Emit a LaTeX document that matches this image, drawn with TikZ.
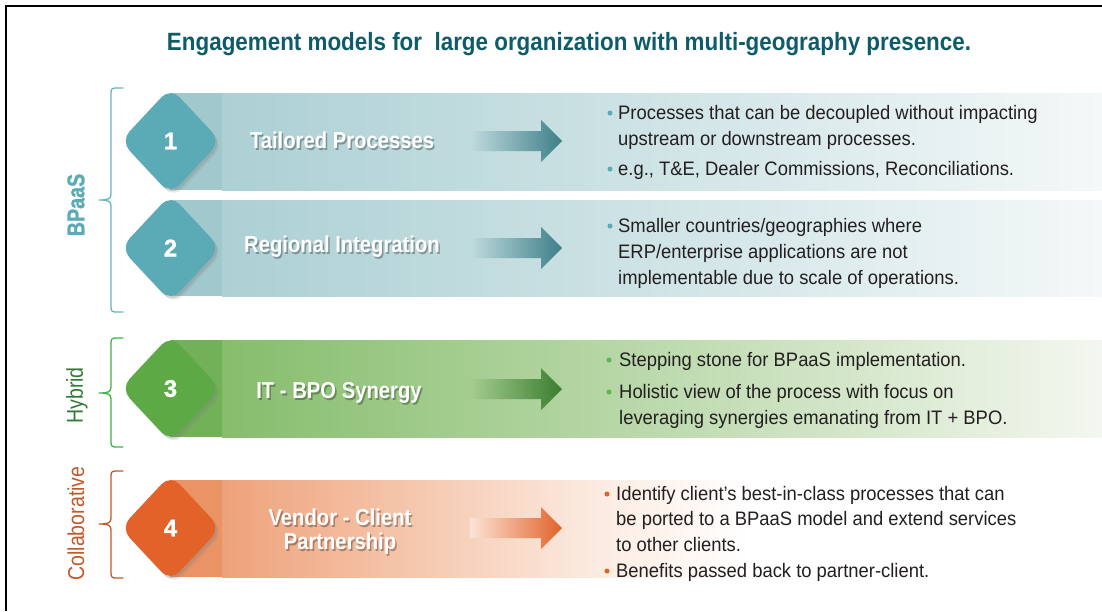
\documentclass[tikz,border=0pt]{standalone}
\usepackage{fontspec}
\setmainfont{Liberation Sans}
\newfontfamily\condreg[FakeStretch=0.944]{Liberation Sans}
\newfontfamily\condbold[FakeStretch=0.88]{Liberation Sans}
\newfontfamily\headfont[FakeStretch=0.896]{Liberation Sans}
\newfontfamily\sidefont[FakeStretch=0.85]{Liberation Sans}
\newfontfamily\sidebold[FakeStretch=0.82,FakeBold=1.2]{Liberation Sans}
\newfontfamily\digitfont[FakeBold=1.2]{Liberation Sans}
\usetikzlibrary{shapes.geometric,shadows}

\definecolor{titlec}{HTML}{0E5C69}
\definecolor{txt}{HTML}{231F20}
% teal group
\definecolor{tealdia}{HTML}{5AABB5}
\definecolor{tealL}{HTML}{A1C8CD}
\definecolor{tealA}{HTML}{ACD0D4}
\definecolor{tealB}{HTML}{F4F8F8}
\definecolor{tealM}{HTML}{C0DBDE}
\definecolor{tealD}{HTML}{3E7F88}
\definecolor{tealbr}{HTML}{6AB3BC}
% green group
\definecolor{greendia}{HTML}{5DA945}
\definecolor{greenL}{HTML}{72B158}
\definecolor{greenA}{HTML}{86BD6C}
\definecolor{greenB}{HTML}{F4F7F0}
\definecolor{greenM}{HTML}{A5CD91}
\definecolor{greenD}{HTML}{3B7D2F}
\definecolor{greenbr}{HTML}{3DB54A}
\definecolor{greenlab}{HTML}{327B37}
\definecolor{greendot}{HTML}{5CB848}
% orange group
\definecolor{orgdia}{HTML}{E2622A}
\definecolor{orgL}{HTML}{EA9365}
\definecolor{orgA}{HTML}{EEA27A}
\definecolor{orgM}{HTML}{F7D2BD}
\definecolor{orgN}{HTML}{FCEDE4}
\definecolor{orgT}{HTML}{FBE3D6}
\definecolor{orgD}{HTML}{E2622A}
\definecolor{orglab}{HTML}{C0592C}

% orange band fades out to white before the text column
\pgfdeclarehorizontalshading{orangeband}{100bp}{%
  color(0bp)=(orgA); color(25bp)=(orgA); color(39bp)=(orgM);
  color(47bp)=(orgN); color(55bp)=(white); color(100bp)=(white)}

\tikzset{
  dia/.style={diamond, minimum width=100pt, minimum height=107pt,
    rounded corners=13pt, inner sep=0pt, text=white,
    font=\digitfont\bfseries\fontsize{24}{24}\selectfont,
    drop shadow={shadow xshift=3.5pt, shadow yshift=-4pt, opacity=0.15},
    drop shadow={shadow xshift=2pt, shadow yshift=-2.5pt, opacity=0.25}},
  btitle/.style={anchor=base, inner sep=0pt, text=white,
    font=\condbold\bfseries\fontsize{23}{24}\selectfont},
  btshadow/.style={anchor=base, inner sep=0pt, text=black, opacity=0.3,
    font=\condbold\bfseries\fontsize{23}{24}\selectfont},
  bul/.style={anchor=base west, inner sep=0pt, text=txt,
    font=\condreg\fontsize{19.5}{26}\selectfont},
  bdot/.style={circle, inner sep=0pt, minimum size=5pt},
  sidelab/.style={rotate=90, inner sep=0pt,
    font=\sidefont\fontsize{23}{24}\selectfont},
}

% block arrow: #1 = centre y, #2 = light colour, #3 = dark colour
\newcommand\blockarrow[3]{%
  \shade[left color=#2, right color=#3]
    (470,{#1-10}) -- (541,{#1-10}) -- (541,{#1-21}) -- (562,#1)
    -- (541,{#1+21}) -- (541,{#1+10}) -- (470,{#1+10}) -- cycle;}

% side bracket: #1 = top, #2 = tip, #3 = bottom, #4 = colour
\newcommand\sidebrace[4]{%
  \draw[#4, line width=1.3pt, line join=round, line cap=round]
    (123,#1) -- (116,#1) .. controls (112,#1) and (111,{#1+1}) .. (111,{#1+5})
    -- (111,{#2-6}) .. controls (111,{#2-1}) and (108,#2) .. (99,#2)
    .. controls (108,#2) and (111,{#2+1}) .. (111,{#2+6})
    -- (111,{#3-5}) .. controls (111,{#3-1}) and (112,#3) .. (116,#3) -- (123,#3);}

\begin{document}
\begin{tikzpicture}[x=1pt,y=-1pt]
\useasboundingbox (0,0) rectangle (1102,611);
\fill[white] (0,0) rectangle (1102,611);

% frame
\draw[line width=2.4pt] (6,611) -- (6,6) -- (1102,6);

% heading
\node[anchor=base, inner sep=0pt, text=titlec,
  font=\headfont\bfseries\fontsize{25}{30}\selectfont] (title) at (569,50)
  {Engagement models for\ \ large organization with multi-geography presence.};

% bands
\shade[left color=tealA, right color=tealB] (222,93) rectangle (1102,190);
\fill[tealL] (170,93) rectangle (222,190);
\shade[left color=tealA, right color=tealB] (222,200) rectangle (1102,296);
\fill[tealL] (170,200) rectangle (222,296);
\shade[left color=greenA, right color=greenB] (222,340) rectangle (1102,437);
\fill[greenL] (170,340) rectangle (222,437);
\shade[shading=orangeband] (222,480) rectangle (1102,577);
\fill[orgL] (170,480) rectangle (222,577);

% arrows
\blockarrow{141}{tealM}{tealD}
\blockarrow{248}{tealM}{tealD}
\blockarrow{389}{greenM}{greenD}
\blockarrow{528}{orgT}{orgD}

% numbered diamonds
\node[dia, fill=tealdia] (d1) at (170.5,141) {1};
\node[dia, fill=tealdia] (d2) at (170.5,248) {2};
\node[dia, fill=greendia] (d3) at (170.5,388.5) {3};
\node[dia, fill=orgdia] (d4) at (170.5,528) {4};

% band titles with soft shadow
\node[btshadow] (t1s) at (343.5,150) {Tailored Processes};
\node[btitle] (t1) at (342,148) {Tailored Processes};
\node[btshadow] (t2s) at (343.5,254) {Regional Integration};
\node[btitle] (t2) at (342,252) {Regional Integration};
\node[btshadow] (t3s) at (340.5,400) {IT - BPO Synergy};
\node[btitle] (t3) at (339,398) {IT - BPO Synergy};
\node[align=center, inner sep=0pt, text=black, opacity=0.3,
  font=\condbold\bfseries\fontsize{23}{24}\selectfont] (t4s) at (341.5,534)
  {Vendor - Client\\Partnership};
\node[align=center, inner sep=0pt, text=white,
  font=\condbold\bfseries\fontsize{23}{24}\selectfont] (t4) at (340,532)
  {Vendor - Client\\Partnership};

% bullet points
\node[bdot, fill=tealdia] (p1a) at (610,113) {};
\node[bul] (b1a) at (618,119) {\parbox[t]{470pt}{Processes that can be decoupled without impacting\\upstream or downstream processes.}};
\node[bdot, fill=tealdia] (p1b) at (610,169) {};
\node[bul] (b1b) at (618,175) {e.g., T\&E, Dealer Commissions, Reconciliations.};

\node[bdot, fill=tealdia] (p2a) at (610,226) {};
\node[bul] (b2a) at (618,232) {\parbox[t]{470pt}{Smaller countries/geographies where\\ERP/enterprise applications are not\\implementable due to scale of operations.}};

\node[bdot, fill=greendot] (p3a) at (609,360) {};
\node[bul] (b3a) at (619,366) {Stepping stone for BPaaS implementation.};
\node[bdot, fill=greendot] (p3b) at (609,392) {};
\node[bul] (b3b) at (619,398) {\parbox[t]{470pt}{Holistic view of the process with focus on\\leveraging synergies emanating from IT + BPO.}};

\node[bdot, fill=orgdia] (p4a) at (607,494) {};
\node[bul] (b4a) at (616,500) {\parbox[t]{470pt}{\fontsize{19.5}{25.7}\selectfont Identify client’s best-in-class processes that can\\be ported to a BPaaS model and extend services\\to other clients.}};
\node[bdot, fill=orgdia] (p4b) at (607,571) {};
\node[bul] (b4b) at (616,577) {Benefits passed back to partner-client.};

% side brackets and group labels
\sidebrace{88}{200}{312}{tealbr}
\sidebrace{338}{393}{447}{greenbr}
\sidebrace{471}{524}{578}{orglab}

\node[rotate=90, inner sep=0pt, text=tealdia,
  font=\sidebold\bfseries\fontsize{24}{24}\selectfont] (gbp) at (76,205) {BPaaS};
\node[sidelab, text=greenlab] (ghy) at (77,395.5) {Hybrid};
\node[sidelab, text=orglab] (gco) at (76,523.5) {Collaborative};
\end{tikzpicture}
\end{document}
